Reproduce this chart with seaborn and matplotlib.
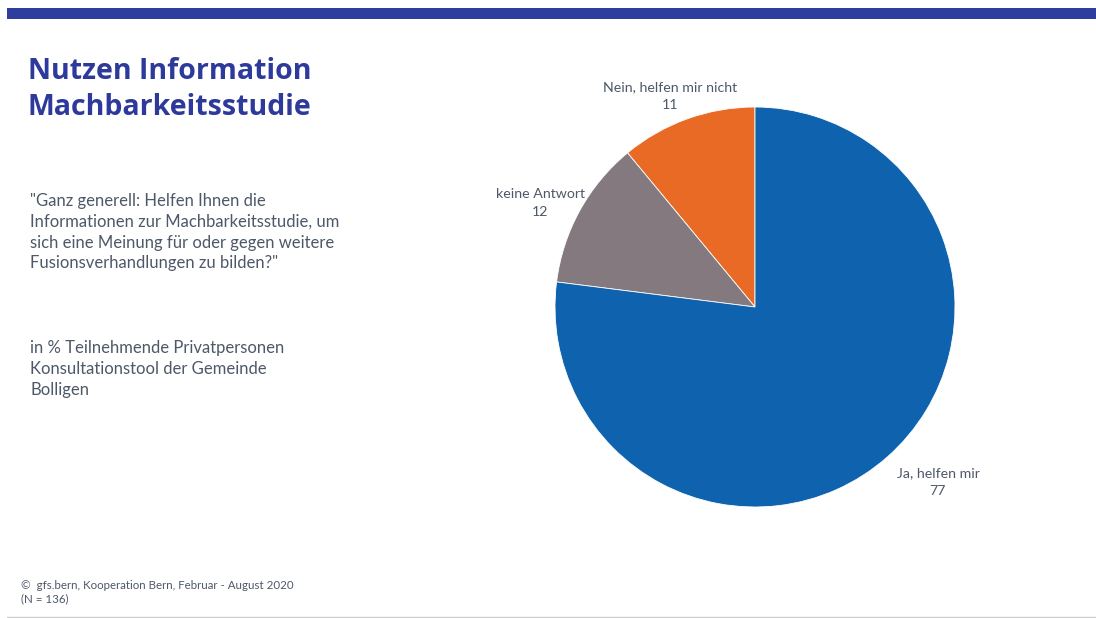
import matplotlib
matplotlib.use("Agg")
import matplotlib.pyplot as plt
import seaborn as sns

# Survey answers (percent), drawn counterclockwise from 12 o'clock
categories = ["Nein, helfen mir nicht", "keine Antwort", "Ja, helfen mir"]
values = [11, 12, 77]
colors = ["#E86A24", "#84797E", "#0F62AE"]

title = "Nutzen Information\nMachbarkeitsstudie"
question = ('"Ganz generell: Helfen Ihnen die\nInformationen zur Machbarkeitsstudie, um\n'
            'sich eine Meinung für oder gegen weitere\nFusionsverhandlungen zu bilden?"')
basis = "in % Teilnehmende Privatpersonen\nKonsultationstool der Gemeinde\nBolligen"
source = "©  gfs.bern, Kooperation Bern, Februar - August 2020\n(N = 136)"

sns.set_theme(style="white")
plt.rcParams["font.family"] = ["Lato", "DejaVu Sans"]

W, H = 1096, 618
fig = plt.figure(figsize=(W / 100, H / 100), dpi=100)
fig.patch.set_facecolor("white")

# header band and footer rule
fig.add_artist(plt.Rectangle((7 / W, 1 - 19 / H), 1 - 7 / W, 11 / H,
                             transform=fig.transFigure, color="#2F3E9E", lw=0))
fig.add_artist(plt.Line2D([7 / W, 1], [1 - 617 / H] * 2, transform=fig.transFigure,
                          color="#CCCCCC", lw=1))

text_col = "#4D5868"
fig.text(28 / W, 1 - 57 / H, title, color="#2E3A9B", fontsize=20.5, fontweight="bold",
         va="top", ha="left", linespacing=1.3, family=["Open Sans", "DejaVu Sans"])
fig.text(30 / W, 1 - 193 / H, question, color=text_col, fontsize=12.0, va="top",
         ha="left", linespacing=1.37)
fig.text(30 / W, 1 - 340 / H, basis, color=text_col, fontsize=12.0, va="top",
         ha="left", linespacing=1.37)
fig.text(21 / W, 1 - 580 / H, source, color=text_col, fontsize=8.3, va="top",
         ha="left", linespacing=1.25)

# pie: centre (755, 307) px, radius 200 px
cx, cy, r = 755, 307, 200
ax = fig.add_axes([(cx - r) / W, 1 - (cy + r) / H, 2 * r / W, 2 * r / H])
ax.pie(values, colors=colors, startangle=90, counterclock=True, radius=1,
       wedgeprops=dict(linewidth=0.6, edgecolor="white"))
ax.set_xlim(-1, 1)
ax.set_ylim(-1, 1)
ax.set_aspect("equal")
ax.axis("off")

label_pos = [(-0.425, 1.055), (-1.075, 0.52), (0.915, -0.875)]
for cat, val, (lx, ly) in zip(categories, values, label_pos):
    ax.text(lx, ly, f"{cat}\n{val}", ha="center", va="center", fontsize=10.2,
            color=text_col, linespacing=1.65, clip_on=False)

fig.savefig("out.png", dpi=100, facecolor="white")
